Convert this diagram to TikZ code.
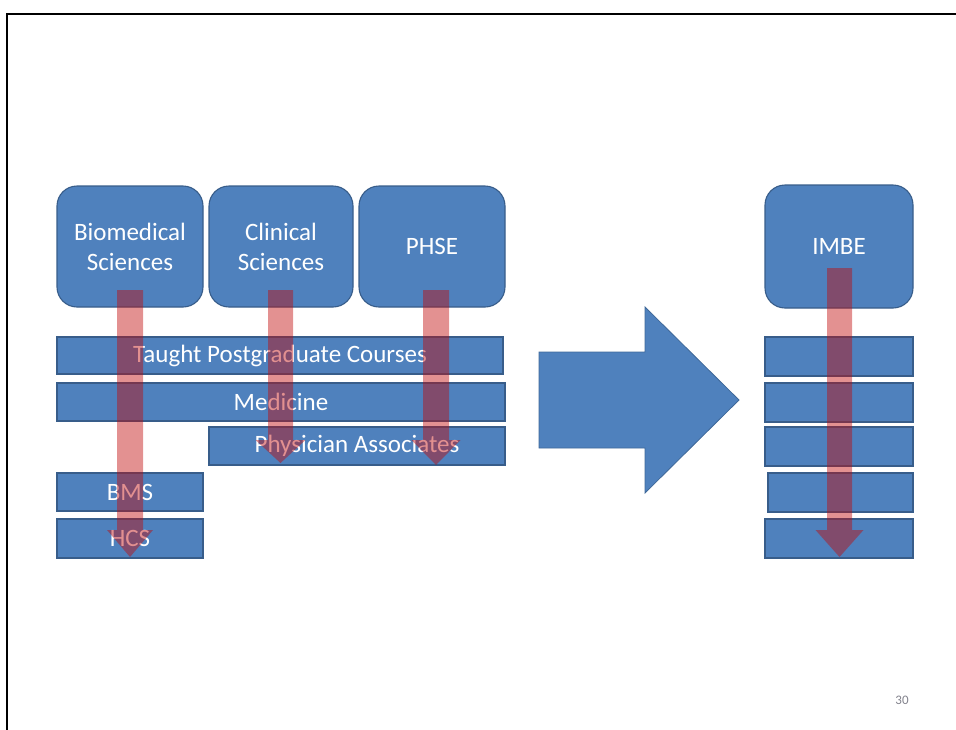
\documentclass[tikz,border=0pt]{standalone}
\usepackage{fontspec}
\setmainfont{Carlito}
\begin{document}
\definecolor{unitblue}{RGB}{79,129,189}
\definecolor{unitedge}{RGB}{56,93,138}
\definecolor{flowred}{RGB}{192,10,10}
\definecolor{pagegrey}{RGB}{130,130,140}
% vertical flow arrow: x centre, top y, head base y, tip y, shaft half width, head half width
\newcommand\flowarrow[6]{%
  \fill[flow] (#1-#5,#2) -- (#1+#5,#2) -- (#1+#5,#3) -- (#1+#6,#3) -- (#1,#4)
    -- (#1-#6,#3) -- (#1-#5,#3) -- cycle;}
\begin{tikzpicture}[x=1pt,y=-1pt,
  unit/.style={draw=unitedge,line width=1.1pt,fill=unitblue,rounded corners=20pt,
    text=white,align=center,inner sep=0pt,
    font=\fontsize{25}{30}\selectfont},
  course/.style={draw=unitedge,line width=1.1pt,fill=unitblue,
    text=white,inner sep=0pt,font=\fontsize{25}{30}\selectfont},
  flow/.style={fill=flowred,fill opacity=0.45},
  frame/.style={line width=2.3pt,black}]
\useasboundingbox (0,0) rectangle (956,729);
\draw[frame] (7,730) -- (7,14) -- (957,14);

% departments
\node[unit,minimum width=146pt,minimum height=121pt] (bio) at (130,246.5) {Biomedical\\Sciences};
\node[unit,minimum width=144pt,minimum height=121pt] (clin) at (281,246.5) {Clinical\\Sciences};
\node[unit,minimum width=146pt,minimum height=121pt] (phse) at (432,246.5) {PHSE};
\node[unit,minimum width=148pt,minimum height=123pt] (imbe) at (839,246.5) {IMBE};

% teaching programmes
\node[course,minimum width=446pt,minimum height=37pt] (tpc) at (280,355.5) {Taught Postgraduate Courses};
\node[course,minimum width=448pt,minimum height=38pt] (med) at (281,402) {Medicine};
\node[course,minimum width=296pt,minimum height=38pt] (pa) at (357,446) {Physician Associates};
\node[course,minimum width=146pt,minimum height=38pt] (bms) at (130,492) {BMS};
\node[course,minimum width=146pt,minimum height=39pt] (hcs) at (130,538.5) {HCS};

% programmes after the merger
\node[course,minimum width=148pt,minimum height=39pt] (r1) at (839,356.5) {};
\node[course,minimum width=148pt,minimum height=39pt] (r2) at (839,402.5) {};
\node[course,minimum width=148pt,minimum height=39pt] (r3) at (839,446.5) {};
\node[course,minimum width=145pt,minimum height=39pt] (r4) at (840.5,492.5) {};
\node[course,minimum width=148pt,minimum height=39pt] (r5) at (839,538.5) {};

% transition arrow
\filldraw[fill=unitblue,draw=unitedge!70!unitblue,line width=0.8pt]
  (539,352) -- (645,352) -- (645,307) -- (739,400) -- (645,493) -- (645,448) -- (539,448) -- cycle;

% flows from departments to programmes
\flowarrow{130}{290}{530}{557}{13}{23}
\flowarrow{280.5}{290}{440}{463}{12.5}{25}
\flowarrow{436}{290}{440}{465}{13}{24.5}
\flowarrow{839.5}{268}{530}{557}{12.5}{24}

\node[text=pagegrey,font=\fontsize{13}{15}\selectfont,inner sep=0pt] (pg) at (902,700) {30};
\end{tikzpicture}
\end{document}
